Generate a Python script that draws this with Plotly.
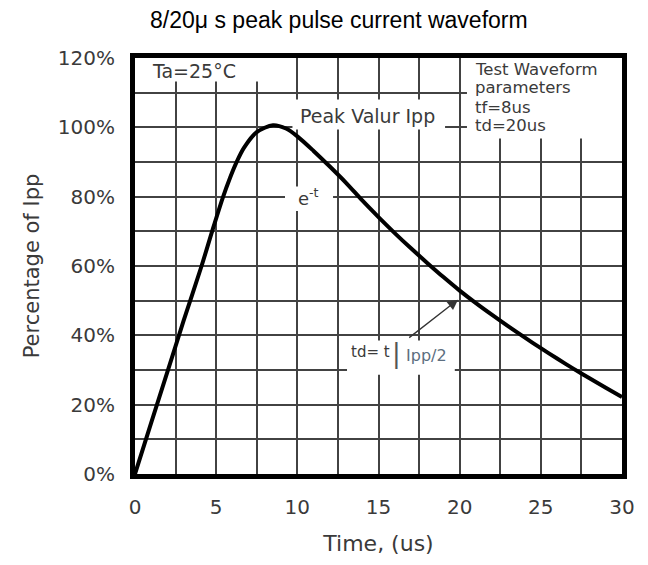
import plotly.graph_objects as go

# 8/20 us waveform
time_us = [0, 1, 2, 3, 4.1, 4.75, 5.4, 5.85, 6.25, 6.7, 7.5, 8.5, 9.3, 10, 11, 12,
           13, 14, 15, 16, 17, 18, 19, 20, 21, 22, 23, 24, 25, 26, 27, 28, 29, 30]
pct_ipp = [0, 14.8, 29.5, 44.3, 60, 70, 79.6, 85.4, 89.9, 94, 98.6, 100.6, 99.65, 97.4, 93.2,
           88.7, 84, 78.9, 74.1, 69.5, 65.1, 60.9, 56.8, 52.9, 49.3, 45.9, 42.6, 39.4, 36.3,
           33.3, 30.4, 27.6, 24.9, 22.2]

x_ticks = [0, 5, 10, 15, 20, 25, 30]
y_ticks = [0, 20, 40, 60, 80, 100, 120]
y_tick_text = ["0%", "20%", "40%", "60%", "80%", "100%", "120%"]

TEXT = "#3a3a3a"
GRID = "#424242"
FONT = "DejaVu Sans"

fig = go.Figure()
fig.add_trace(go.Scatter(
    x=time_us, y=pct_ipp, mode="lines",
    line=dict(color="black", width=4, shape="spline", smoothing=0.8),
    hoverinfo="skip", showlegend=False,
))

# white patches behind the labels (they break the grid in the original)
boxes = [
    (0, 8.3, 113.2, 120),
    (20.45, 30, 96.8, 120),
    (9.7, 19.1, 99.4, 108),
    (9.24, 12.2, 75.9, 82.9),
    (13.06, 19.7, 28.6, 38.5),
]
for x0, x1, y0, y1 in boxes:
    fig.add_shape(type="rect", xref="x", yref="y", x0=x0, x1=x1, y0=y0, y1=y1,
                  fillcolor="white", line=dict(width=0), layer="between")


def label(x, y, text, size=19, color=TEXT, xanchor="center"):
    fig.add_annotation(x=x, y=y, xref="x", yref="y", text=text, showarrow=False,
                       xanchor=xanchor, yanchor="middle",
                       font=dict(family=FONT, size=size, color=color))


label(3.64, 116.3, "Ta=25°C")
label(20.83, 116.8, "Test Waveform", size=16.5, xanchor="left")
label(20.83, 111.4, "parameters", size=16.5, xanchor="left")
label(20.83, 105.7, "tf=8us", size=16.5, xanchor="left")
label(20.83, 100.4, "td=20us", size=16.5, xanchor="left")
label(14.3, 103.3, "Peak Valur Ipp")
label(10.7, 79.8, "e<sup>-t</sup>", size=18)
label(14.5, 35.1, "td= t", size=15)
label(16.1, 34.8, "|", size=26, color="#555555")
label(17.93, 34.2, "Ipp/2", size=16, color="#5c6e80")

# arrow pointing to the half-peak point
fig.add_annotation(x=19.9, y=50.3, ax=16.8, ay=39, xref="x", yref="y",
                   axref="x", ayref="y", text="", showarrow=True,
                   arrowhead=2, arrowsize=1.6, arrowwidth=1.3, arrowcolor="#333333")

axis_common = dict(
    showline=True, linecolor="black", linewidth=5, mirror=True,
    showgrid=True, gridcolor=GRID, gridwidth=2, zeroline=False,
    ticks="", tickfont=dict(family=FONT, size=20, color=TEXT),
)

fig.update_xaxes(
    range=[0, 30], tickvals=x_ticks,
    minor=dict(dtick=2.5, showgrid=True, gridcolor=GRID, gridwidth=2),
    ticklabelstandoff=11,
    title=dict(text="Time, (us)", font=dict(family=FONT, size=22, color=TEXT), standoff=19),
    **axis_common,
)
fig.update_yaxes(
    range=[0, 120], tickvals=y_ticks, ticktext=y_tick_text,
    minor=dict(dtick=10, showgrid=True, gridcolor=GRID, gridwidth=2),
    ticklabelstandoff=11,
    title=dict(text="Percentage of Ipp", font=dict(family=FONT, size=21, color=TEXT), standoff=14),
    **axis_common,
)

# the page adds an 8px body margin, so the figure is drawn 8px smaller
fig.update_layout(
    width=640, height=557,
    margin=dict(l=127, r=26, t=50, b=83),
    paper_bgcolor="white", plot_bgcolor="white",
    title=dict(text="8/20μ s peak pulse current waveform", x=0.517, xanchor="center",
               y=0.978, yanchor="middle",
               font=dict(family="Liberation Sans, Arial", size=23, color="black")),
)

fig.write_html("out.html")
